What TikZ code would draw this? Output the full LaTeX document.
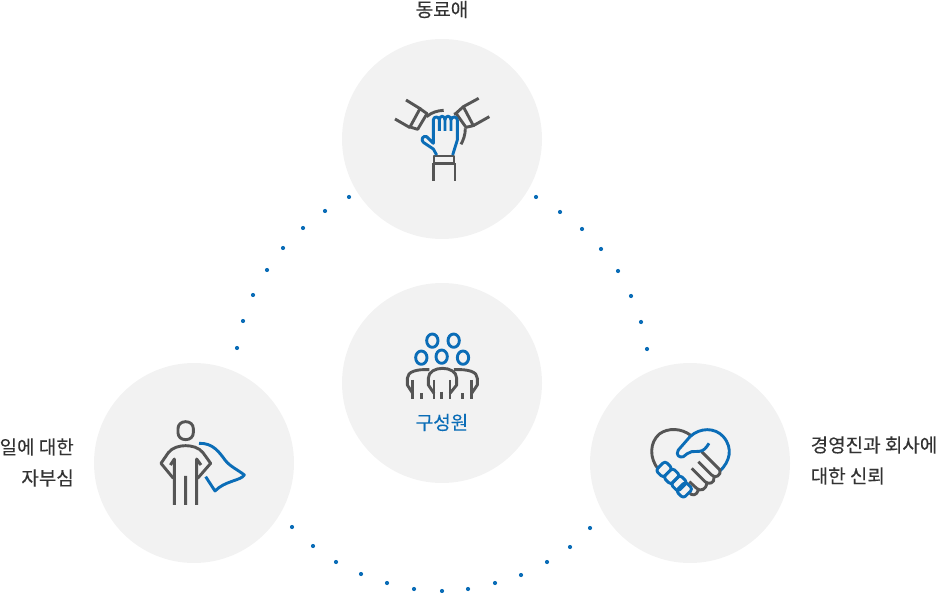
\documentclass[tikz,border=0pt]{standalone}
\usepackage{fontspec}
\setmainfont[FakeBold=0.15]{Noto Sans CJK KR}
\definecolor{disc}{HTML}{F2F2F2}
\definecolor{ink}{HTML}{555555}
\definecolor{brand}{HTML}{0B6DB7}
\definecolor{txt}{HTML}{333333}
\tikzset{
 disc/.style={circle,fill=disc,minimum size=200pt,inner sep=0pt},
 lab/.style={font=\fontsize{19}{31}\selectfont,text=txt,inner sep=0pt},
 gr/.style={draw=ink,line width=2.9pt,line cap=butt,line join=round,fill=none},
 bl/.style={draw=brand,line width=2.9pt,line cap=butt,line join=round,fill=none},
 dotm/.style={fill=brand,draw=none}
}
\begin{document}
\begin{tikzpicture}[x=1pt,y=-1pt]
\useasboundingbox (0,0) rectangle (936,593);
\node[disc] (top) at (442,139) {};
\node[disc] (mid) at (442,383) {};
\node[disc] (left) at (194,463) {};
\node[disc] (right) at (690,463) {};
\foreach \px/\py in {349/197,325/211,303/228,283/248,267/270,253/295,243/321,237/348,
 536/197,560/212,582/229,601/249,618/271,631/296,641/322,647/349,
 292/527,313/546,336/562,361/574,387/583,414/589,442/591,468/589,495/583,521/575,547/562,570/547,590/528}
 \fill[dotm] (\px,\py) circle (2.1pt);
\node[lab] (t1) at (442,9.5) {동료애};
\node[lab,text=brand] (t2) at (442,422.5) {구성원};
\node[lab,align=right,anchor=east] (t3) at (74,462.5) {일에 대한\\자부심};
\node[lab,align=left,anchor=west] (t4) at (810.5,460.5) {경영진과 회사에\\대한 신뢰};
% icon: team hands
\begin{scope}[shift={(380,85)},x=0.3333pt,y=-0.3333pt]
 \draw[gr] (78,45)--(122,72) (45,102)--(90,128);
 \draw[gr] (120,71)--(141,86)--(113,133)--(90,126)--cycle;
 \draw[gr] (140,95) .. controls (155,82) and (172,77) .. (191,76);
 \draw[gr] (296,40)--(250,65) (328,95)--(280,122);
 \draw[gr] (250,65)--(228,85)--(258,127)--(280,122)--cycle;
 \draw[gr] (256,130) .. controls (256,150) and (250,165) .. (243,178);
 \draw[gr] (222,88)--(232,84);
 \draw[gr] (162,213) rectangle (222,235);
 \draw[gr] (160,235)--(160,287) (225,235)--(225,287);
 \draw[bl] (170,210)--(160,192)--(130,172) .. controls (122,165) and (128,150) .. (140,155)
  --(160,175)--(160,105) .. controls (160,93) and (178,93) .. (178,105)--(178,138)
  (178,105) .. controls (178,90) and (195,90) .. (195,105)--(195,138)
  (195,105) .. controls (195,90) and (213,90) .. (213,105)--(213,138)
  (213,105) .. controls (213,93) and (232,93) .. (232,105)--(232,165)--(218,210);
\end{scope}
% icon: team
\begin{scope}[shift={(390,325)},x=0.3333pt,y=-0.3333pt]
 \foreach \cx/\cy in {127/47,191/47,94/98,155/95,219/98}
  \draw[bl] (\cx,\cy) ellipse (17 and 20);
 \draw[gr] (68,205)--(52,180)--(52,160) .. controls (52,140) and (80,132) .. (118,134);
 \draw[gr] (132,205)--(115,180)--(115,160) .. controls (115,120) and (200,120) .. (200,160)--(200,180)--(180,205);
 \draw[gr] (192,134) .. controls (235,132) and (262,140) .. (262,160)--(262,180)--(245,205);
 \foreach \vx/\vy in {68/165,95/205,132/165,155/200,180/165,218/205,245/165}
  \draw[gr] (\vx,\vy)--(\vx,222);
\end{scope}
% icon: hero
\begin{scope}[shift={(145,410)},x=0.3333pt,y=-0.3333pt]
 \draw[gr] (122,35) .. controls (108,35) and (99,44) .. (99,56)--(99,68) .. controls (99,80) and (108,89) .. (122,89)
  .. controls (136,89) and (145,80) .. (145,68)--(145,56) .. controls (145,44) and (136,35) .. (122,35)--cycle;
 \draw[gr] (85,205)--(48,160)--(70,128) .. controls (82,112) and (105,107) .. (122,107)
  .. controls (139,107) and (162,112) .. (174,128)--(197,160)--(158,205);
 \draw[gr] (76,165)--(88,147)--(88,285) (168,165)--(155,147)--(155,285) (122,198)--(122,285);
 \draw[bl] (162,100) .. controls (205,98) and (225,130) .. (240,150)
  .. controls (255,170) and (280,180) .. (298,195)
  .. controls (288,212) and (240,212) .. (210,243)--(182,200);
\end{scope}
% icon: handshake heart
\begin{scope}[shift={(640,420)},x=0.3333pt,y=-0.3333pt]
 \draw[gr] (152,46) .. controls (125,25) and (85,22) .. (58,42) .. controls (28,68) and (28,115) .. (55,148);
 \draw[bl] (150,50) .. controls (180,22) and (225,22) .. (250,50) .. controls (280,85) and (270,125) .. (238,155);
 \draw[gr] (185,95)--(240,150) .. controls (245,165) and (225,178) .. (215,165)--(175,125);
 \draw[gr] (222,172) .. controls (225,190) and (205,195) .. (195,185)--(155,145);
 \draw[gr] (200,188) .. controls (200,210) and (180,215) .. (170,205)--(148,185);
 \draw[gr] (175,210) .. controls (170,228) and (155,228) .. (148,218);
 \draw[bl] (207,70) .. controls (198,85) and (190,93) .. (178,94)--(155,95) .. controls (145,96) and (138,105) .. (130,110)
  .. controls (120,115) and (105,105) .. (115,90)--(150,50);
 \foreach \cx/\cy in {72/148,95/169,117/190,133/210}
  \draw[bl,rounded corners=3pt] (\cx+25,\cy-3)--(\cx+3,\cy-25)--(\cx-25,\cy+3)--(\cx-3,\cy+25)--cycle;
\end{scope}
\end{tikzpicture}
\end{document}
